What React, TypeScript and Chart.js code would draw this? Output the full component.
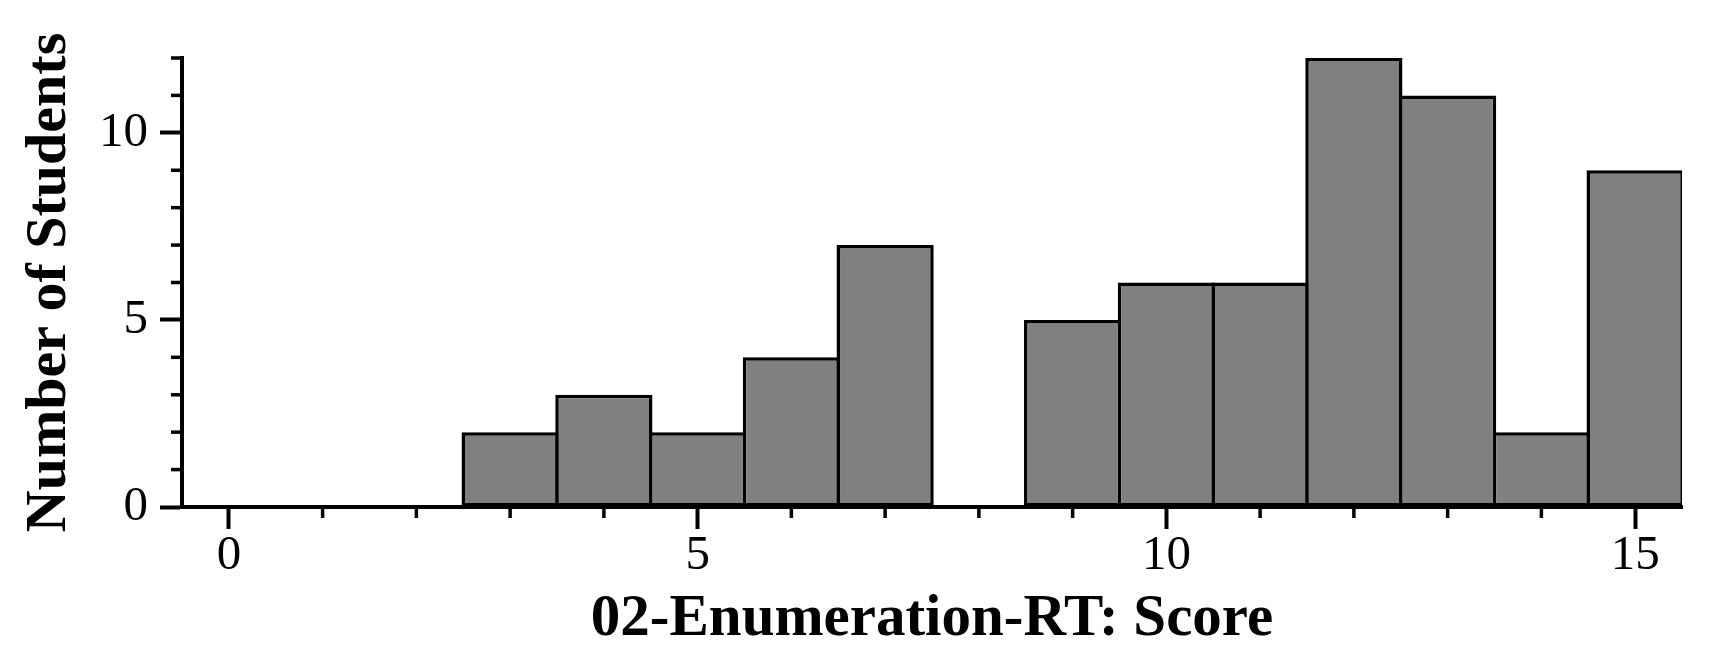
import React, { useEffect, useRef } from "react";
import { Chart, registerables } from "chart.js";

Chart.register(...registerables);

const scores: number[] = [0, 1, 2, 3, 4, 5, 6, 7, 8, 9, 10, 11, 12, 13, 14, 15];
const studentCounts: number[] = [0, 0, 0, 2, 3, 2, 4, 7, 0, 5, 6, 6, 12, 11, 2, 9];
const xMajorTicks: number[] = [0, 5, 10, 15];
const yMajorTicks: number[] = [0, 5, 10];
const xTitle = "02-Enumeration-RT: Score";
const yTitle = "Number of Students";

const FONT = "'Liberation Serif', 'Times New Roman', serif";

const minorTicksPlugin = {
  id: "minorTicks",
  afterDraw(chart: any) {
    const { ctx, scales } = chart;
    const xs = scales.x;
    const ys = scales.y;
    ctx.save();
    ctx.strokeStyle = "#000";
    ctx.lineWidth = 3.5;
    ctx.lineCap = "butt";
    for (let v = Math.ceil(xs.min); v <= xs.max; v++) {
      if (xMajorTicks.includes(v)) continue;
      const px = xs.getPixelForValue(v);
      ctx.beginPath();
      ctx.moveTo(px, xs.top);
      ctx.lineTo(px, xs.top + 11);
      ctx.stroke();
    }
    for (let v = Math.ceil(ys.min); v <= ys.max; v++) {
      if (yMajorTicks.includes(v)) continue;
      const py = ys.getPixelForValue(v);
      ctx.beginPath();
      ctx.moveTo(ys.right, py);
      ctx.lineTo(ys.right - 11, py);
      ctx.stroke();
    }
    ctx.restore();
  },
};

export default function App() {
  const canvasRef = useRef<HTMLCanvasElement | null>(null);

  useEffect(() => {
    if (!canvasRef.current) return;
    const chart = new Chart(canvasRef.current, {
      type: "bar",
      data: {
        datasets: [
          {
            data: scores.map((s, i) => ({ x: s, y: studentCounts[i] })),
            backgroundColor: "#808080",
            borderColor: "#000000",
            borderWidth: 3.5,
            borderSkipped: false,
            barPercentage: 1.037,
            categoryPercentage: 1,
          },
        ],
      },
      options: {
        animation: false,
        responsive: true,
        maintainAspectRatio: false,
        layout: { padding: { top: 58, right: 38, left: 0, bottom: 0 } },
        plugins: {
          legend: { display: false },
          tooltip: { enabled: false },
        },
        scales: {
          x: {
            type: "linear",
            offset: false,
            min: -0.5,
            max: 15.5,
            afterFit: (s: any) => {
              s.height = 163;
            },
            ticks: {
              stepSize: 5,
              includeBounds: false,
              color: "#000",
              padding: -2,
              maxRotation: 0,
              font: { family: FONT, size: 49 },
            },
            grid: {
              display: true,
              offset: false,
              drawOnChartArea: false,
              drawTicks: true,
              tickLength: 22,
              tickWidth: 4,
              tickColor: "#000",
            },
            border: { display: true, width: 4, color: "#000" },
            title: {
              display: true,
              text: xTitle,
              color: "#000",
              font: { family: FONT, size: 59, weight: "bold" },
              padding: { top: 0, bottom: 15 },
            },
          },
          y: {
            type: "linear",
            min: 0,
            max: 12,
            afterFit: (s: any) => {
              s.width = 182;
            },
            ticks: {
              stepSize: 5,
              includeBounds: false,
              color: "#000",
              padding: 12,
              font: { family: FONT, size: 49 },
            },
            grid: {
              display: true,
              drawOnChartArea: false,
              drawTicks: true,
              tickLength: 22,
              tickWidth: 4,
              tickColor: "#000",
            },
            border: { display: true, width: 4, color: "#000" },
            title: {
              display: true,
              text: yTitle,
              color: "#000",
              font: { family: FONT, size: 58, weight: "bold" },
              padding: { top: 15, bottom: 0 },
            },
          },
        },
      },
      plugins: [minorTicksPlugin],
    });
    return () => chart.destroy();
  }, []);

  return (
    <div style={{ position: "fixed", left: 0, top: 0, width: 1720, height: 670, background: "#fff" }}>
      <canvas ref={canvasRef} />
    </div>
  );
}
